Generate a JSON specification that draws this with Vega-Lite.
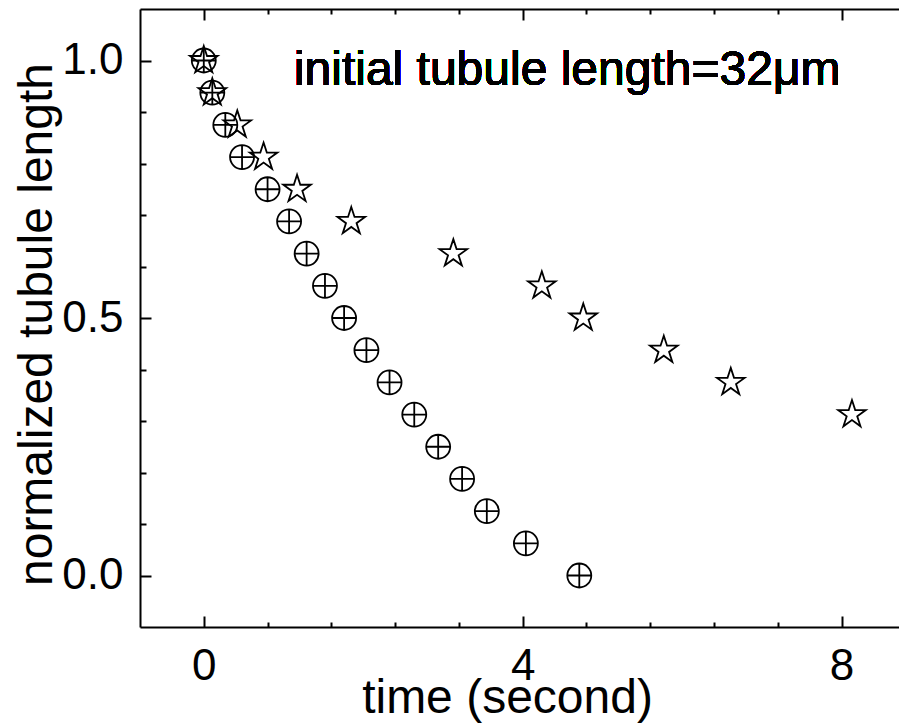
{
  "$schema": "https://vega.github.io/schema/vega-lite/v6.json",
  "width": 759,
  "height": 618,
  "autosize": "none",
  "padding": {"left": 140, "top": 9, "right": 0, "bottom": 98},
  "background": "white",
  "config": {
    "view": {"stroke": null},
    "font": "Liberation Sans",
    "axis": {
      "domainColor": "black",
      "domainWidth": 2,
      "tickColor": "black",
      "tickWidth": 2,
      "labelColor": "black",
      "labelFont": "Liberation Sans",
      "labelFontSize": 44,
      "titleFont": "Liberation Sans",
      "titleFontSize": 48,
      "titleFontWeight": "normal",
      "titleColor": "black",
      "grid": false
    }
  },
  "data": {
    "values": [
      {"series": "star", "t": 0, "L": 1},
      {"series": "star", "t": 0.107, "L": 0.9375},
      {"series": "star", "t": 0.42, "L": 0.875},
      {"series": "star", "t": 0.75, "L": 0.8125},
      {"series": "star", "t": 1.17, "L": 0.75},
      {"series": "star", "t": 1.85, "L": 0.6875},
      {"series": "star", "t": 3.13, "L": 0.625},
      {"series": "star", "t": 4.24, "L": 0.5625},
      {"series": "star", "t": 4.76, "L": 0.5},
      {"series": "star", "t": 5.77, "L": 0.4375},
      {"series": "star", "t": 6.61, "L": 0.375},
      {"series": "star", "t": 8.13, "L": 0.3125},
      {"series": "circle", "t": 0, "L": 1},
      {"series": "circle", "t": 0.107, "L": 0.9375},
      {"series": "circle", "t": 0.27, "L": 0.875},
      {"series": "circle", "t": 0.48, "L": 0.8125},
      {"series": "circle", "t": 0.8, "L": 0.75},
      {"series": "circle", "t": 1.07, "L": 0.6875},
      {"series": "circle", "t": 1.29, "L": 0.625},
      {"series": "circle", "t": 1.52, "L": 0.5625},
      {"series": "circle", "t": 1.76, "L": 0.5},
      {"series": "circle", "t": 2.04, "L": 0.4375},
      {"series": "circle", "t": 2.33, "L": 0.375},
      {"series": "circle", "t": 2.64, "L": 0.3125},
      {"series": "circle", "t": 2.94, "L": 0.25},
      {"series": "circle", "t": 3.24, "L": 0.1875},
      {"series": "circle", "t": 3.55, "L": 0.125},
      {"series": "circle", "t": 4.04, "L": 0.0625},
      {"series": "circle", "t": 4.71, "L": 0}
    ]
  },
  "layer": [
    {
      "transform": [{"filter": "datum.series === 'star' && datum.t < 2"}],
      "mark": {
        "type": "point",
        "shape": "M0,-1L0.2245,-0.309L0.951,-0.309L0.3633,0.118L0.588,0.809L0,0.382L-0.588,0.809L-0.3633,0.118L-0.951,-0.309L-0.2245,-0.309Z",
        "size": 841,
        "filled": false,
        "stroke": "black",
        "strokeWidth": 1.8,
        "opacity": 1
      },
      "encoding": {
        "x": {
          "field": "t",
          "type": "quantitative",
          "scale": {"domain": [-0.8, 8.72], "nice": false, "zero": false},
          "axis": {
            "orient": "bottom",
            "values": [0, 4, 8],
            "tickSize": -11,
            "labelPadding": 28,
            "labelBaseline": "top",
            "title": "time (second)",
            "titleX": 367,
            "titleY": 85,
            "titleAlign": "center",
            "titleBaseline": "alphabetic"
          }
        },
        "y": {
          "field": "L",
          "type": "quantitative",
          "scale": {"domain": [-0.1, 1.1], "nice": false, "zero": false},
          "axis": {
            "orient": "left",
            "values": [0, 0.5, 1],
            "format": ".1f",
            "tickSize": -11,
            "labelPadding": 28,
            "labelBaseline": "middle",
            "title": "normalized tubule length",
            "titleAngle": 270,
            "titleX": -89,
            "titleY": 315,
            "titleAlign": "center",
            "titleBaseline": "alphabetic"
          }
        }
      }
    },
    {
      "transform": [{"filter": "datum.series === 'star' && datum.t >= 2"}],
      "mark": {
        "type": "point",
        "shape": "M0,-1L0.2245,-0.309L0.951,-0.309L0.3633,0.118L0.588,0.809L0,0.382L-0.588,0.809L-0.3633,0.118L-0.951,-0.309L-0.2245,-0.309Z",
        "size": 841,
        "filled": false,
        "stroke": "black",
        "strokeWidth": 1.8,
        "opacity": 1
      },
      "encoding": {
        "x": {
          "field": "t",
          "type": "quantitative",
          "scale": {"domain": [-0.8, 8.72], "nice": false, "zero": false},
          "axis": {
            "orient": "bottom",
            "values": [0.8, 1.6, 2.4, 3.2, 4.8, 5.6, 6.4, 7.2],
            "tickSize": -5,
            "labels": false,
            "domain": false,
            "title": null
          }
        },
        "y": {
          "field": "L",
          "type": "quantitative",
          "scale": {"domain": [-0.1, 1.1], "nice": false, "zero": false},
          "axis": {
            "orient": "left",
            "values": [0.1, 0.2, 0.3, 0.4, 0.6, 0.7, 0.8, 0.9],
            "tickSize": -6,
            "labels": false,
            "domain": false,
            "title": null
          }
        }
      }
    },
    {
      "transform": [{"filter": "datum.series === 'circle' && datum.t < 2"}],
      "mark": {
        "type": "point",
        "shape": "M-1,0A1,1,0,1,1,1,0A1,1,0,1,1,-1,0ZM-1,0L1,0M0,-1L0,1",
        "size": 576,
        "filled": false,
        "stroke": "black",
        "strokeWidth": 1.8,
        "opacity": 1
      },
      "encoding": {
        "x": {
          "field": "t",
          "type": "quantitative",
          "scale": {"domain": [-0.8, 8.72], "nice": false, "zero": false},
          "axis": {
            "orient": "top",
            "values": [0, 4, 8],
            "tickSize": -11,
            "labels": false,
            "title": null
          }
        },
        "y": {
          "field": "L",
          "type": "quantitative",
          "scale": {"domain": [-0.1, 1.1], "nice": false, "zero": false},
          "axis": null
        }
      }
    },
    {
      "transform": [{"filter": "datum.series === 'circle' && datum.t >= 2"}],
      "mark": {
        "type": "point",
        "shape": "M-1,0A1,1,0,1,1,1,0A1,1,0,1,1,-1,0ZM-1,0L1,0M0,-1L0,1",
        "size": 576,
        "filled": false,
        "stroke": "black",
        "strokeWidth": 1.8,
        "opacity": 1
      },
      "encoding": {
        "x": {
          "field": "t",
          "type": "quantitative",
          "scale": {"domain": [-0.8, 8.72], "nice": false, "zero": false},
          "axis": {
            "orient": "top",
            "values": [0.8, 1.6, 2.4, 3.2, 4.8, 5.6, 6.4, 7.2],
            "tickSize": -5,
            "labels": false,
            "domain": false,
            "title": null
          }
        },
        "y": {
          "field": "L",
          "type": "quantitative",
          "scale": {"domain": [-0.1, 1.1], "nice": false, "zero": false},
          "axis": null
        }
      }
    },
    {
      "mark": {
        "type": "text",
        "text": "initial tubule length=32μm",
        "font": "Liberation Sans",
        "fontSize": 48,
        "align": "left",
        "baseline": "alphabetic",
        "color": "black"
      },
      "encoding": {
        "x": {"datum": 1.13, "type": "quantitative", "axis": null},
        "y": {"datum": 0.953, "type": "quantitative", "axis": null}
      }
    }
  ],
  "resolve": {"axis": {"x": "independent", "y": "independent"}}
}
